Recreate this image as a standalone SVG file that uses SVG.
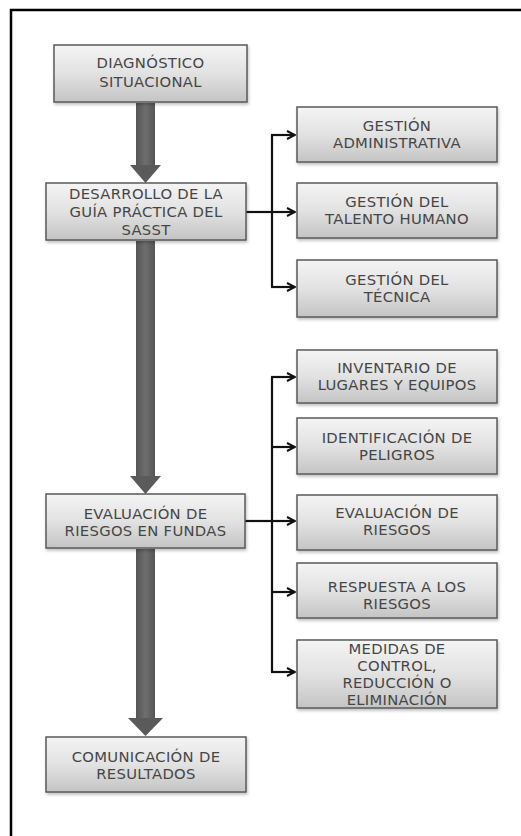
<svg xmlns="http://www.w3.org/2000/svg" width="521" height="836" viewBox="0 0 521 836">
<defs>
<linearGradient id="boxg" x1="0" y1="0" x2="0" y2="1">
<stop offset="0" stop-color="#f4f4f4"/>
<stop offset="0.5" stop-color="#e2e2e2"/>
<stop offset="1" stop-color="#c4c4c4"/>
</linearGradient>
<linearGradient id="shaftg" x1="0" y1="0" x2="1" y2="0">
<stop offset="0" stop-color="#555"/>
<stop offset="0.5" stop-color="#6e6e6e"/>
<stop offset="1" stop-color="#555"/>
</linearGradient>
<filter id="sh" x="-10%" y="-10%" width="120%" height="130%">
<feDropShadow dx="1" dy="2" stdDeviation="1.5" flood-color="#000" flood-opacity="0.25"/>
</filter>
<marker id="ah" viewBox="0 0 10 10" refX="9" refY="5" markerWidth="10" markerHeight="10" markerUnits="userSpaceOnUse" orient="auto">
<path d="M1,1 L9,5 L1,9" fill="none" stroke="#111" stroke-width="2"/>
</marker>
</defs>
<style>
.box{fill:url(#boxg);stroke:#5a5a5a;stroke-width:1.5;filter:url(#sh)}
.t{font-family:"DejaVu Sans",Verdana,sans-serif;font-size:14.8px;letter-spacing:0.3px;fill:#464646;text-anchor:middle}
.c{fill:none;stroke:#111;stroke-width:2.2}
.shaft{fill:url(#shaftg)}
.head{fill:#5a5a5a}
</style>
<rect width="521" height="836" fill="#fff"/>
<path d="M11,836 V10 H521" fill="none" stroke="#000" stroke-width="2.5"/>

<g id="big-arrows">
<rect class="shaft" x="136" y="103" width="19" height="64"/>
<path class="head" d="M130,165 H161 L145.5,183 Z"/>
<rect class="shaft" x="136" y="241" width="19" height="237"/>
<path class="head" d="M130,476 H161 L145.5,494 Z"/>
<rect class="shaft" x="136" y="549" width="19" height="171"/>
<path class="head" d="M128,718 H163 L145.5,736 Z"/>
</g>

<g id="connectors">
<path class="c" d="M246,212 H272"/>
<path class="c" d="M272,135 V287"/>
<path class="c" marker-end="url(#ah)" d="M271,135 H295"/>
<path class="c" marker-end="url(#ah)" d="M271,212 H295"/>
<path class="c" marker-end="url(#ah)" d="M271,287 H295"/>
<path class="c" d="M245,521 H272"/>
<path class="c" d="M272,377 V672"/>
<path class="c" marker-end="url(#ah)" d="M271,377 H295"/>
<path class="c" marker-end="url(#ah)" d="M271,447 H295"/>
<path class="c" marker-end="url(#ah)" d="M271,521 H295"/>
<path class="c" marker-end="url(#ah)" d="M271,592 H295"/>
<path class="c" marker-end="url(#ah)" d="M271,672 H295"/>
</g>

<g id="diagnostico">
<rect class="box" x="54" y="45" width="193" height="57"/>
<text class="t" x="150.5" y="68">DIAGNÓSTICO</text>
<text class="t" x="150.5" y="87">SITUACIONAL</text>
</g>

<g id="desarrollo">
<rect class="box" x="46" y="183" width="200" height="57"/>
<text class="t" x="146" y="199">DESARROLLO DE LA</text>
<text class="t" x="146" y="217">GUÍA PRÁCTICA DEL</text>
<text class="t" x="146" y="235">SASST</text>
</g>

<g id="evaluacion-fundas">
<rect class="box" x="46" y="494" width="199" height="54"/>
<text class="t" x="145.5" y="519">EVALUACIÓN DE</text>
<text class="t" x="145.5" y="536">RIESGOS EN FUNDAS</text>
</g>

<g id="comunicacion">
<rect class="box" x="46" y="737" width="200" height="55"/>
<text class="t" x="146" y="762">COMUNICACIÓN DE</text>
<text class="t" x="146" y="779">RESULTADOS</text>
</g>

<g id="gestion-admin">
<rect class="box" x="297" y="107" width="200" height="55"/>
<text class="t" x="397" y="131">GESTIÓN</text>
<text class="t" x="397" y="148">ADMINISTRATIVA</text>
</g>

<g id="gestion-talento">
<rect class="box" x="297" y="183" width="200" height="55"/>
<text class="t" x="397" y="207">GESTIÓN DEL</text>
<text class="t" x="397" y="224">TALENTO HUMANO</text>
</g>

<g id="gestion-tecnica">
<rect class="box" x="297" y="260" width="200" height="57"/>
<text class="t" x="397" y="285">GESTIÓN DEL</text>
<text class="t" x="397" y="302">TÉCNICA</text>
</g>

<g id="inventario">
<rect class="box" x="297" y="350" width="200" height="53"/>
<text class="t" x="397" y="373">INVENTARIO DE</text>
<text class="t" x="397" y="390">LUGARES Y EQUIPOS</text>
</g>

<g id="identificacion">
<rect class="box" x="297" y="418" width="200" height="56"/>
<text class="t" x="397" y="443">IDENTIFICACIÓN DE</text>
<text class="t" x="397" y="460">PELIGROS</text>
</g>

<g id="evaluacion-riesgos">
<rect class="box" x="297" y="495" width="200" height="55"/>
<text class="t" x="397" y="518">EVALUACIÓN DE</text>
<text class="t" x="397" y="535">RIESGOS</text>
</g>

<g id="respuesta">
<rect class="box" x="297" y="563" width="200" height="55"/>
<text class="t" x="397" y="592">RESPUESTA A LOS</text>
<text class="t" x="397" y="609">RIESGOS</text>
</g>

<g id="medidas">
<rect class="box" x="297" y="640" width="200" height="68"/>
<text class="t" x="397" y="654">MEDIDAS DE</text>
<text class="t" x="397" y="671">CONTROL,</text>
<text class="t" x="397" y="688">REDUCCIÓN O</text>
<text class="t" x="397" y="705">ELIMINACIÓN</text>
</g>
</svg>
